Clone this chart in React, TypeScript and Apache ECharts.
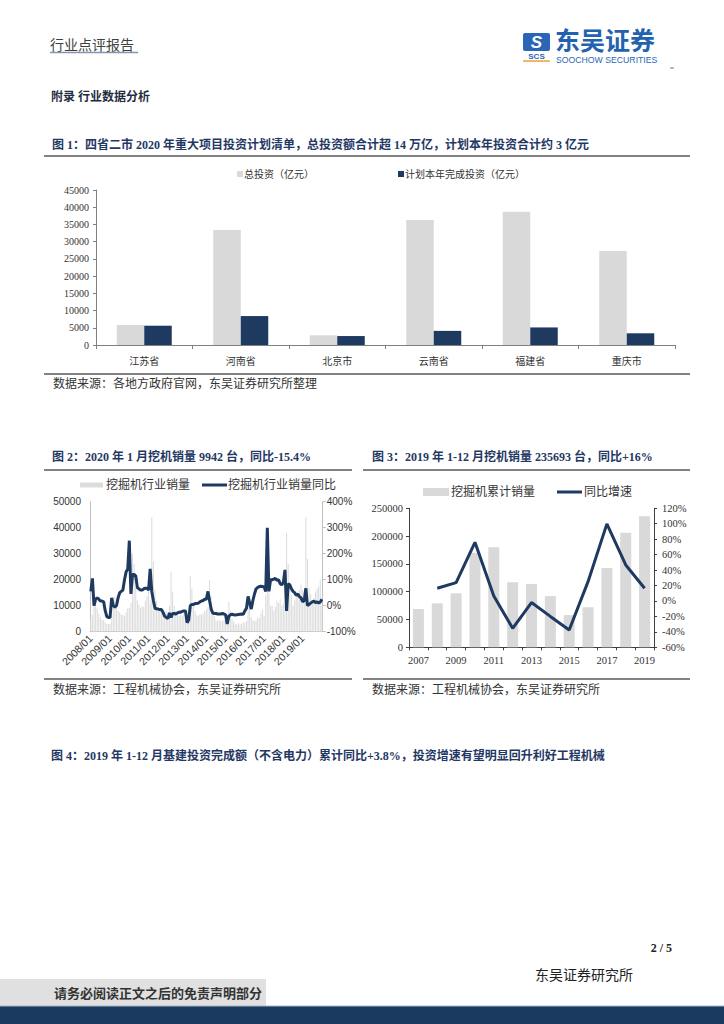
import React, { useEffect, useRef } from 'react';
import * as echarts from 'echarts';

const SERIF = "'Liberation Serif','Noto Sans CJK SC',serif";
const SANS = "'Liberation Sans','Noto Sans CJK SC',sans-serif";
const NAVY = '#1f3a60';
const GRAY = '#d9d9d9';
const TITLE = '#1f3864';

// ---------- Figure 1 ----------
const fig1Categories = ['江苏省', '河南省', '北京市', '云南省', '福建省', '重庆市'];
const fig1Total = [5800, 33400, 2800, 36300, 38700, 27300];
const fig1Plan = [5600, 8400, 2600, 4100, 5100, 3400];
const fig1Legend = ['总投资（亿元）', '计划本年完成投资（亿元）'];

// ---------- Figure 2 ----------
const fig2Years = [2008, 2009, 2010, 2011, 2012, 2013, 2014, 2015, 2016, 2017, 2018, 2019, 2020];
const fig2Sales = [
  5000, 6500, 13000, 12000, 9000, 7000, 5500, 4500, 4500, 3500, 3000, 3000,
  3000, 6000, 13000, 13500, 9500, 8000, 7500, 6500, 6500, 6000, 7500, 9000,
  9000, 11000, 30000, 26000, 17000, 12000, 10500, 9000, 10000, 9500, 12000, 13500,
  16000, 12000, 44000, 27000, 16000, 12000, 9000, 8000, 8500, 7500, 7500, 8000,
  5000, 10000, 23000, 15500, 10000, 8000, 6500, 6000, 6500, 6000, 7000, 8500,
  6500, 7500, 21500, 16500, 10500, 8000, 6500, 6000, 6800, 6500, 7000, 8000,
  8500, 9500, 20000, 13500, 8000, 6000, 4500, 4000, 4500, 4000, 4000, 4500,
  4000, 5500, 11500, 8000, 5000, 4000, 3000, 2800, 3200, 2800, 3200, 3500,
  3500, 4000, 13000, 10000, 5500, 4500, 4000, 4300, 5500, 5200, 7000, 8500,
  6000, 14000, 22000, 15000, 10000, 10000, 8000, 9500, 12000, 11000, 12500, 10000,
  11000, 10000, 38000, 26000, 17000, 14000, 10000, 12000, 14000, 14000, 16000, 18000,
  16000, 13000, 44000, 28000, 17000, 14500, 12000, 13000, 15500, 16500, 17500, 20000,
  9942,
];
const fig2Yoy = [
  55, 105, 0, 25, 30, 25, 18, 18, 15, -20, -42, -45,
  -45, 30, 0, -5, 0, 30, 50, 55, 60, 100, 130, 140,
  250, 45, 120, 120, 115, 70, 65, 60, 60, 65, 67, 67,
  60, 142, 55, 20, -10, -12, -13, -15, -15, -25, -40, -45,
  -50, -28, -45, -30, -30, -32, -28, -25, -25, -22, -20, -20,
  -65, -55, 0, 5, 5, 8, 8, 10, 15, 18, 20, 25,
  25, 55, 20, -13, -28, -30, -30, -32, -32, -32, -30, -32,
  -35, -70, -40, -35, -33, -35, -36, -35, -34, -33, -32, -33,
  -20, -10, 36, 10, -13, 20, 45, 65, 70, 74, 75, 74,
  72, 55, 300, 55, 100, 100, 102, 105, 98, 100, 85, 80,
  90, 138, -20, 85, 80, 65, 55, 50, 40, 45, 35, 30,
  15, 20, 67, 0, 5, 10, 15, 18, 12, 15, 10, 14,
  25,
];
const fig2Legend = ['挖掘机行业销量', '挖掘机行业销量同比'];
const fig2Months: string[] = [];
fig2Years.forEach((y) => {
  for (let m = 1; m <= 12; m++) {
    if (fig2Months.length < fig2Sales.length) fig2Months.push(`${y}/${m < 10 ? '0' + m : m}`);
  }
});

// ---------- Figure 3 ----------
const fig3Years = ['2007', '2008', '2009', '2010', '2011', '2012', '2013', '2014', '2015', '2016', '2017', '2018', '2019'];
const fig3Sales = [68800, 79000, 97000, 170000, 180000, 117000, 114000, 92000, 58000, 72000, 142500, 206000, 235693];
const fig3Yoy = [null, 16.4, 23.8, 76, 6.5, -35.4, -2, -20, -37.6, 25, 99.8, 46.6, 16.4];
const fig3Legend = ['挖掘机累计销量', '同比增速'];

// ---------- Page texts ----------
const headerTitle = '行业点评报告';
const sectionTitle = '附录 行业数据分析';
const fig1Title = '图 1：四省二市 2020 年重大项目投资计划清单，总投资额合计超 14 万亿，计划本年投资合计约 3 亿元';
const fig2Title = '图 2：2020 年 1 月挖机销量 9942 台，同比-15.4%';
const fig3Title = '图 3：2019 年 1-12 月挖机销量 235693 台，同比+16%';
const fig4Title = '图 4：2019 年 1-12 月基建投资完成额（不含电力）累计同比+3.8%，投资增速有望明显回升利好工程机械';
const source1 = '数据来源：各地方政府官网，东吴证券研究所整理';
const source2 = '数据来源：工程机械协会，东吴证券研究所';

const plain = (v: number) => String(v);

function txt(text: string, x: number, y: number, font: string, fill: string, align = 'left') {
  return {
    type: 'text',
    x,
    y,
    style: { text, font, fill, textAlign: align, textVerticalAlign: 'middle' },
  };
}
function hline(x1: number, x2: number, y: number, stroke: string, lineWidth: number) {
  return { type: 'line', shape: { x1, y1: y, x2, y2: y }, style: { stroke, lineWidth } };
}

export default function App() {
  const ref = useRef<HTMLDivElement>(null);
  useEffect(() => {
    if (!ref.current) return;
    const chart = echarts.init(ref.current, undefined, { renderer: 'svg' });
    const titleFont = `bold 12px ${SERIF}`;
    const srcFont = `12px ${SERIF}`;
    const ruleColor = '#595959';
    const option: any = {
      animation: false,
      backgroundColor: '#ffffff',
      grid: [
        { left: 96, top: 190, width: 579, height: 155 },
        { left: 90, top: 501.7, width: 232.7, height: 130 },
        { left: 409, top: 508.3, width: 245, height: 139 },
      ],
      xAxis: [
        {
          type: 'category',
          gridIndex: 0,
          data: fig1Categories,
          axisLine: { lineStyle: { color: '#7f7f7f' } },
          axisTick: { show: true, length: 4, lineStyle: { color: '#7f7f7f' } },
          axisLabel: { fontSize: 10, color: '#333', fontFamily: SERIF, margin: 11 },
        },
        {
          type: 'category',
          gridIndex: 1,
          data: fig2Months,
          axisLine: { lineStyle: { color: '#bfbfbf' } },
          axisTick: { show: false },
          axisLabel: {
            rotate: 45,
            interval: (i: number) => i % 12 === 0 && i < 144,
            fontSize: 10.5,
            color: '#333',
            fontFamily: SANS,
            margin: 5,
          },
        },
        {
          type: 'category',
          gridIndex: 2,
          data: fig3Years,
          axisLine: { lineStyle: { color: '#404040' } },
          axisTick: { show: true, interval: 0, length: 3, lineStyle: { color: '#404040' } },
          axisLabel: { interval: 1, fontSize: 10.5, color: '#333', fontFamily: SERIF, margin: 8 },
        },
      ],
      yAxis: [
        {
          type: 'value',
          gridIndex: 0,
          min: 0,
          max: 45000,
          interval: 5000,
          axisLine: { show: true, lineStyle: { color: '#7f7f7f' } },
          axisTick: { show: true, length: 3, lineStyle: { color: '#7f7f7f' } },
          splitLine: { show: false },
          axisLabel: { formatter: plain, fontSize: 10, color: '#333', fontFamily: SERIF, margin: 7 },
        },
        {
          type: 'value',
          gridIndex: 1,
          position: 'left',
          min: 0,
          max: 50000,
          interval: 10000,
          axisLine: { show: true, lineStyle: { color: '#bfbfbf' } },
          axisTick: { show: false },
          splitLine: { show: false },
          axisLabel: { formatter: plain, fontSize: 10, color: '#333', fontFamily: SANS, margin: 9 },
        },
        {
          type: 'value',
          gridIndex: 1,
          position: 'right',
          min: -100,
          max: 400,
          interval: 100,
          axisLine: { show: true, lineStyle: { color: '#bfbfbf' } },
          axisTick: { show: true, length: 3, lineStyle: { color: '#bfbfbf' } },
          splitLine: { show: false },
          axisLabel: { formatter: '{value}%', fontSize: 10, color: '#333', fontFamily: SANS, margin: 4 },
        },
        {
          type: 'value',
          gridIndex: 2,
          position: 'left',
          min: 0,
          max: 250000,
          interval: 50000,
          axisLine: { show: true, lineStyle: { color: '#404040' } },
          axisTick: { show: true, length: 3, lineStyle: { color: '#404040' } },
          splitLine: { show: false },
          axisLabel: { formatter: plain, fontSize: 10.5, color: '#333', fontFamily: SERIF, margin: 6 },
        },
        {
          type: 'value',
          gridIndex: 2,
          position: 'right',
          min: -60,
          max: 120,
          interval: 20,
          axisLine: { show: true, lineStyle: { color: '#404040' } },
          axisTick: { show: true, length: 3, lineStyle: { color: '#404040' } },
          splitLine: { show: false },
          axisLabel: { formatter: '{value}%', fontSize: 10.5, color: '#333', fontFamily: SERIF, margin: 8 },
        },
      ],
      series: [
        {
          name: fig1Legend[0],
          type: 'bar',
          xAxisIndex: 0,
          yAxisIndex: 0,
          data: fig1Total,
          barWidth: 27.5,
          barGap: '0%',
          itemStyle: { color: GRAY },
        },
        {
          name: fig1Legend[1],
          type: 'bar',
          xAxisIndex: 0,
          yAxisIndex: 0,
          data: fig1Plan,
          barWidth: 27.5,
          barGap: '0%',
          itemStyle: { color: NAVY },
        },
        {
          name: fig2Legend[0],
          type: 'bar',
          xAxisIndex: 1,
          yAxisIndex: 1,
          data: fig2Sales,
          barWidth: '65%',
          itemStyle: { color: '#dcdcdc' },
        },
        {
          name: fig2Legend[1],
          type: 'line',
          xAxisIndex: 1,
          yAxisIndex: 2,
          data: fig2Yoy,
          symbol: 'none',
          lineStyle: { color: NAVY, width: 3 },
          itemStyle: { color: NAVY },
        },
        {
          name: fig3Legend[0],
          type: 'bar',
          xAxisIndex: 2,
          yAxisIndex: 3,
          data: fig3Sales,
          barWidth: 11,
          itemStyle: { color: GRAY },
        },
        {
          name: fig3Legend[1],
          type: 'line',
          xAxisIndex: 2,
          yAxisIndex: 4,
          data: fig3Yoy,
          symbol: 'none',
          lineStyle: { color: NAVY, width: 3 },
          itemStyle: { color: NAVY },
        },
      ],
      graphic: [
        // header
        txt(headerTitle, 50, 45, `14px ${SERIF}`, '#404040'),
        hline(50, 138, 52.5, '#8496b0', 1.5),
        { type: 'rect', shape: { x: 523, y: 33, width: 27, height: 18, r: 2 }, style: { fill: '#2a66b5' } },
        txt('S', 536.5, 42, `italic bold 17px ${SANS}`, '#ffffff', 'center'),
        txt('SCS', 536.5, 56.5, `bold 8px ${SANS}`, '#2a66b5', 'center'),
        hline(523, 550, 61, '#f0a030', 1.5),
        txt('东吴证券', 555, 41, `bold 25px ${SANS}`, '#2462b0'),
        txt('SOOCHOW SECURITIES', 556, 60, `8.7px ${SANS}`, '#2a66b5'),
        hline(670, 674, 68, '#777', 1),
        txt(sectionTitle, 51, 97, `bold 12px ${SERIF}`, '#1f2d40'),
        // figure 1
        txt(fig1Title, 52, 145, titleFont, TITLE),
        hline(44, 690, 156, ruleColor, 1.6),
        { type: 'rect', shape: { x: 237, y: 171, width: 6, height: 6 }, style: { fill: GRAY } },
        txt(fig1Legend[0], 244, 174, `10px ${SANS}`, '#333'),
        { type: 'rect', shape: { x: 398, y: 171, width: 6, height: 6 }, style: { fill: NAVY } },
        txt(fig1Legend[1], 405, 174, `10px ${SANS}`, '#333'),
        hline(44, 690, 374, ruleColor, 1.6),
        txt(source1, 53, 384, srcFont, '#333'),
        // figure 2
        txt(fig2Title, 52, 457, titleFont, TITLE),
        hline(44, 352, 470, ruleColor, 1.6),
        { type: 'rect', shape: { x: 80, y: 482.5, width: 23, height: 5 }, style: { fill: '#dcdcdc' } },
        txt(fig2Legend[0], 106, 485, `12px ${SANS}`, '#333'),
        hline(202, 227, 485, NAVY, 3),
        txt(fig2Legend[1], 228, 485, `12px ${SANS}`, '#333'),
        hline(44, 352, 679, ruleColor, 1.6),
        txt(source2, 53, 690, srcFont, '#333'),
        // figure 3
        txt(fig3Title, 372, 457, titleFont, TITLE),
        hline(363, 690, 470, ruleColor, 1.6),
        { type: 'rect', shape: { x: 423, y: 488, width: 26, height: 8 }, style: { fill: GRAY } },
        txt(fig3Legend[0], 451, 492, `12px ${SANS}`, '#333'),
        hline(557, 582, 492, NAVY, 3),
        txt(fig3Legend[1], 584, 492, `12px ${SANS}`, '#333'),
        hline(363, 690, 679, ruleColor, 1.6),
        txt(source2, 372, 690, srcFont, '#333'),
        // figure 4
        txt(fig4Title, 51, 756, titleFont, TITLE),
        // footer
        txt('2 / 5', 672, 948, `bold 12px ${SERIF}`, '#222', 'right'),
        txt('东吴证券研究所', 535, 975, `14px ${SERIF}`, '#222'),
        { type: 'rect', shape: { x: 0, y: 979, width: 266, height: 27 }, style: { fill: '#e0e0e0' } },
        txt('请务必阅读正文之后的免责声明部分', 54, 993, `bold 13px ${SERIF}`, '#333'),
        { type: 'rect', shape: { x: 0, y: 1006, width: 724, height: 18 }, style: { fill: '#1b3a5f' } },
        hline(0, 724, 1006, '#a9b4c4', 1),
      ],
    };
    chart.setOption(option);
    return () => chart.dispose();
  }, []);
  return (
    <div
      ref={ref}
      style={{ position: 'absolute', left: 0, top: 0, width: 724, height: 1024, background: '#fff' }}
    />
  );
}
